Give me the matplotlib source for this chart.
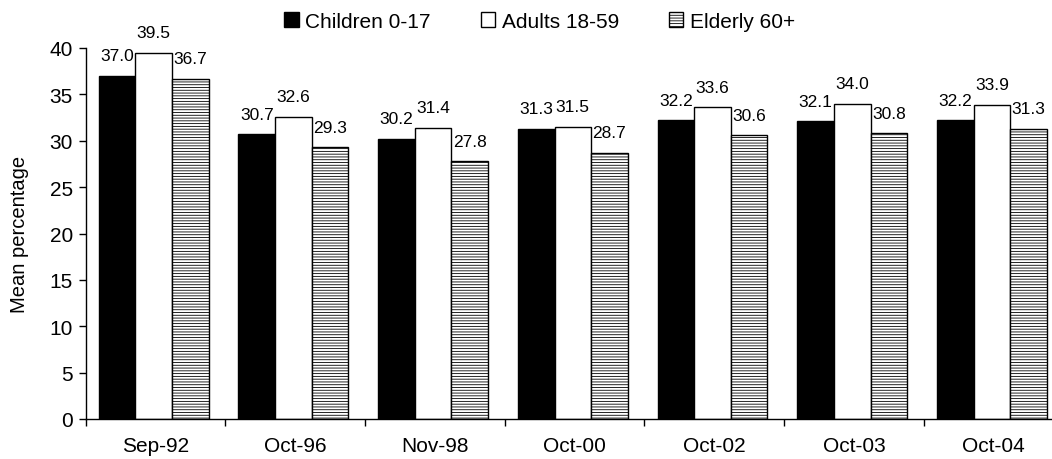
import matplotlib
matplotlib.use('Agg')
import matplotlib.pyplot as plt
import numpy as np

plt.rcParams['font.family'] = ['Liberation Sans', 'DejaVu Sans']
plt.rcParams['hatch.linewidth'] = 0.6

periods = ['Sep-92', 'Oct-96', 'Nov-98', 'Oct-00', 'Oct-02', 'Oct-03', 'Oct-04']
children = [37.0, 30.7, 30.2, 31.3, 32.2, 32.1, 32.2]
adults = [39.5, 32.6, 31.4, 31.5, 33.6, 34.0, 33.9]
elderly = [36.7, 29.3, 27.8, 28.7, 30.6, 30.8, 31.3]

fig = plt.figure(figsize=(10.52, 4.6), dpi=100)
# axes runs a little past the right edge of the figure, like the original
ax = fig.add_axes([85.5 / 1052, 40 / 460, 978 / 1052, 371 / 460])

x = np.arange(len(periods))
w = 0.262
start = x + 0.095

b1 = ax.bar(start, children, w, align='edge', color='black', edgecolor='black',
            linewidth=1, label='Children 0-17')
b2 = ax.bar(start + w, adults, w, align='edge', color='white', edgecolor='black',
            linewidth=1, label='Adults 18-59')
b3 = ax.bar(start + 2 * w, elderly, w, align='edge', color='white', edgecolor='black',
            linewidth=1, hatch='------', label='Elderly 60+')

for bars, vals in [(b1, children), (b2, adults), (b3, elderly)]:
    for bar, v in zip(bars, vals):
        ax.annotate(f'{v:.1f}', (bar.get_x() + bar.get_width() / 2, v),
                    xytext=(0, 9), textcoords='offset points', ha='center',
                    va='bottom', fontsize=12.5, clip_on=False, annotation_clip=False)

ax.set_xlim(0, len(periods))
ax.set_ylim(0, 40)
ax.set_yticks(range(0, 41, 5))
ax.set_xticks(x + 0.5)
ax.set_xticklabels(periods)
ax.set_xticks(np.arange(len(periods)), minor=True)
ax.tick_params(axis='x', which='major', length=0, pad=12, labelsize=15)
ax.tick_params(axis='x', which='minor', length=5, width=1, direction='out')
ax.tick_params(axis='y', length=5, width=1, direction='out', labelsize=15, pad=4)

ax.spines['top'].set_visible(False)
ax.spines['right'].set_visible(False)
ax.spines['left'].set_linewidth(1)
ax.spines['bottom'].set_linewidth(1)

ax.set_ylabel('Mean percentage', fontsize=14.5, labelpad=15)

fig.legend(handles=[b1, b2, b3], loc='center', bbox_to_anchor=(0.513, 0.952),
           ncol=3, frameon=False, fontsize=15, handlelength=0.7, handleheight=0.7,
           handletextpad=0.3, columnspacing=2.4)

plt.savefig('out.png', dpi=100)
plt.close()
